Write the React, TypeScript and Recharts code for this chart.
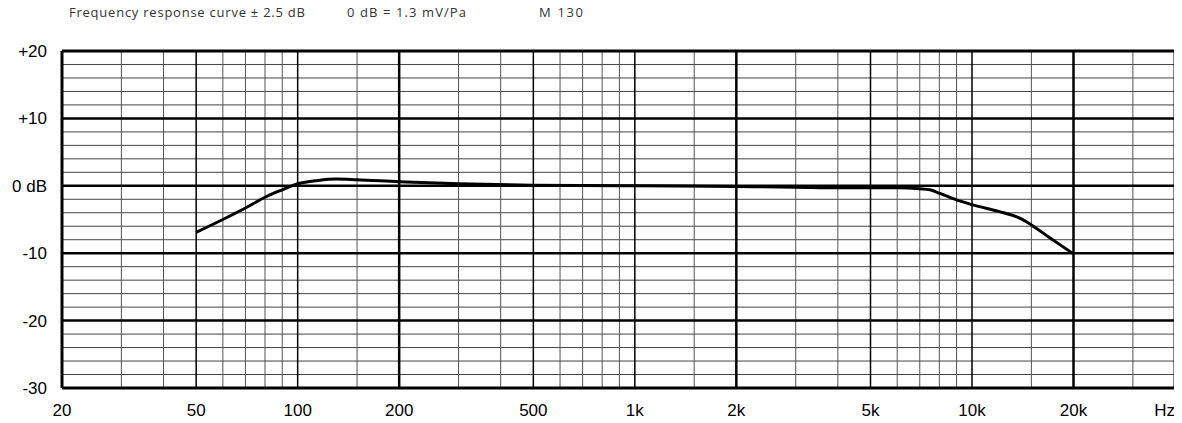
import { LineChart, Line, XAxis, YAxis, ReferenceLine } from 'recharts'

// Frequency response M 130
const freqs = [50, 60, 70, 80, 90, 100, 115, 130, 150, 200, 300, 500, 1000, 2000, 3000, 4000, 5000, 6000, 7000, 7500, 8000, 9000, 10000, 12000, 14000, 15000, 17000, 20000]
const levels = [-6.9, -5.0, -3.3, -1.7, -0.6, 0.3, 0.8, 1.0, 0.9, 0.6, 0.3, 0.1, 0, -0.1, -0.2, -0.3, -0.3, -0.3, -0.45, -0.6, -1.1, -2.1, -2.8, -3.8, -4.9, -5.8, -7.7, -10.1]

const xTicks = [20, 50, 100, 200, 500, 1000, 2000, 5000, 10000, 20000, 40000]
const yTicks = [-30, -20, -10, 0, 10, 20]

// grid of the paper
const decadeLines = [200, 2000, 20000]
const midLines = [50, 100, 500, 1000, 5000, 10000]
const minorLines = [30, 40, 60, 70, 80, 90, 150, 300, 400, 600, 700, 800, 900, 1500, 3000, 4000, 6000, 7000, 8000, 9000, 15000, 30000]
const boldLevels = [-20, -10, 0, 10]
const minorLevels = [-28, -26, -24, -22, -18, -16, -14, -12, -8, -6, -4, -2, 2, 4, 6, 8, 12, 14, 16, 18]

const data = freqs.map((f, i) => ({ f, db: levels[i] }))

const font = '"Liberation Sans", Arial, sans-serif'

const formatX = (v: number) => {
  if (v === 40000) return 'Hz'
  if (v >= 1000) return `${v / 1000}k`
  return String(v)
}

const formatY = (v: number) => {
  if (v === 0) return '0 dB'
  if (v > 0) return `+${v}`
  return String(v)
}

// eslint-disable-next-line @typescript-eslint/no-explicit-any
const XTick = ({ x, y, payload }: any) => (
  <text
    x={x}
    y={y}
    dy="0.71em"
    textAnchor={payload.value === 40000 ? 'end' : 'middle'}
    fontSize={17}
    fontFamily={font}
    fill="#000"
  >
    {formatX(payload.value)}
  </text>
)

export default function App() {
  return (
    <div style={{ position: 'relative', width: 1174, height: 415 }}>
      <svg width={700} height={30} style={{ position: 'absolute', left: -8, top: -8 }}>
        <g fontFamily='"Open Sans", sans-serif' fontSize={13} fill="#333">
          <text x={69} y={17} textLength={236} lengthAdjust="spacing">Frequency response curve ± 2.5 dB</text>
          <text x={347} y={17} textLength={119} lengthAdjust="spacing">0 dB = 1.3 mV/Pa</text>
          <text x={539} y={17} textLength={44} lengthAdjust="spacing">M 130</text>
        </g>
      </svg>
      <LineChart width={1174} height={415} data={data} margin={{ top: 43, right: 7, bottom: 0, left: 0 }}>
        <XAxis
          dataKey="f"
          type="number"
          scale="log"
          domain={[20, 40000]}
          ticks={xTicks}
          interval={0}
          height={35}
          axisLine={false}
          tickLine={false}
          tickMargin={10}
          tick={<XTick />}
        />
        <YAxis
          type="number"
          domain={[-30, 20]}
          ticks={yTicks}
          interval={0}
          width={54}
          axisLine={false}
          tickLine={false}
          tickMargin={9}
          tickFormatter={formatY}
          tick={{ fontSize: 17, fontFamily: font, fill: '#000' }}
        />
        {minorLevels.map(v => (
          <ReferenceLine key={`hy${v}`} y={v} stroke="#444" strokeWidth={1} />
        ))}
        {minorLines.map(v => (
          <ReferenceLine key={`mx${v}`} x={v} stroke="#555" strokeWidth={1} />
        ))}
        {midLines.map(v => (
          <ReferenceLine key={`dx${v}`} x={v} stroke="#000" strokeWidth={1.5} />
        ))}
        {decadeLines.map(v => (
          <ReferenceLine key={`bx${v}`} x={v} stroke="#000" strokeWidth={2.5} />
        ))}
        {boldLevels.map(v => (
          <ReferenceLine key={`by${v}`} y={v} stroke="#000" strokeWidth={2.5} />
        ))}
        <ReferenceLine x={20} stroke="#000" strokeWidth={3} />
        <ReferenceLine x={40000} stroke="#000" strokeWidth={3} />
        <ReferenceLine y={20} stroke="#000" strokeWidth={3} />
        <ReferenceLine y={-30} stroke="#000" strokeWidth={3} />
        <Line
          type="monotone"
          dataKey="db"
          stroke="#000"
          strokeWidth={3}
          dot={false}
          isAnimationActive={false}
        />
      </LineChart>
    </div>
  )
}
